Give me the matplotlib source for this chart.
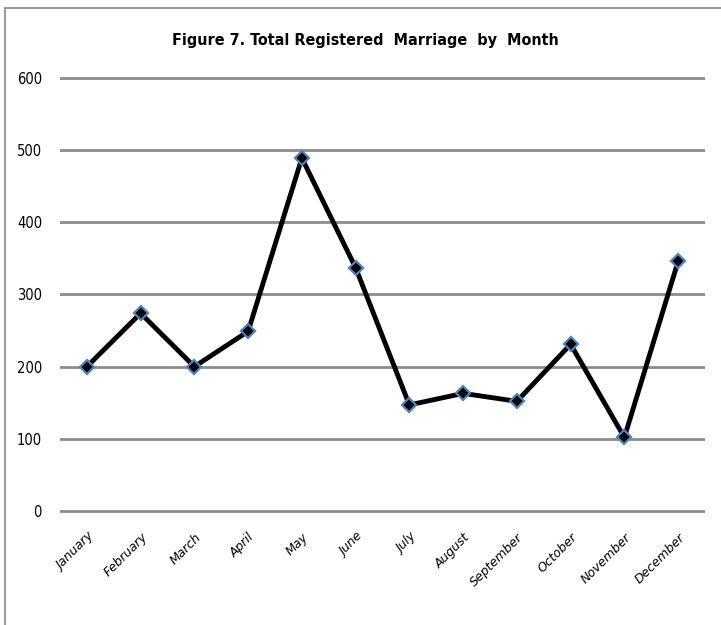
# -*- coding: utf-8 -*-
# line chart: registered marriages by month

import matplotlib.pyplot as plt
from matplotlib.patches import Rectangle

# data
months = ["January", "February", "March", "April", "May", "June",
          "July", "August", "September", "October", "November", "December"]
marriages = [200, 274, 200, 249, 489, 337, 147, 163, 152, 231, 102, 346]
y_ticks = [0, 100, 200, 300, 400, 500, 600]

fam = ["DejaVu Sans"]

fig = plt.figure(figsize=(7.21, 6.25), dpi=100)

# outer border (only left and top visible in the crop)
fig.patches.append(Rectangle((5 / 721, -0.1), 1.2, 1 - 8 / 625 + 0.1,
                             transform=fig.transFigure, fill=False,
                             edgecolor="#9a9a9a", linewidth=1.5))

ax = fig.add_axes([60 / 721, 1 - 516.8 / 625, 645 / 721, 444.6 / 625])
x = range(len(months))
ax.plot(x, marriages, color="black", linewidth=3.5, marker="D",
        markersize=7.5, markerfacecolor="black", markeredgecolor="#4f81bd",
        markeredgewidth=1.6, zorder=3)

ax.set_xlim(-0.5, 11.5)
ax.set_ylim(-8, 608)
ax.set_yticks(y_ticks)
ax.set_yticklabels([str(v) for v in y_ticks], family=fam,
                   stretch="condensed", fontsize=10.5)
ax.set_xticks(list(x))
ax.set_xticklabels(months, rotation=45, ha="right", rotation_mode="anchor",
                   family=fam, style="italic", fontsize=9)
ax.tick_params(axis="both", length=0)
ax.tick_params(axis="y", pad=13)
ax.tick_params(axis="x", pad=10)
ax.grid(axis="y", color="#8c8c8c", linewidth=2)
ax.set_axisbelow(True)
for s in ax.spines.values():
    s.set_visible(False)

fig.text(365 / 721, 1 - 40 / 625, "Figure 7. Total Registered  Marriage  by  Month",
         ha="center", va="center", fontsize=11.5, fontweight="bold",
         family=fam, stretch="condensed")

fig.savefig("out.png", dpi=100)
